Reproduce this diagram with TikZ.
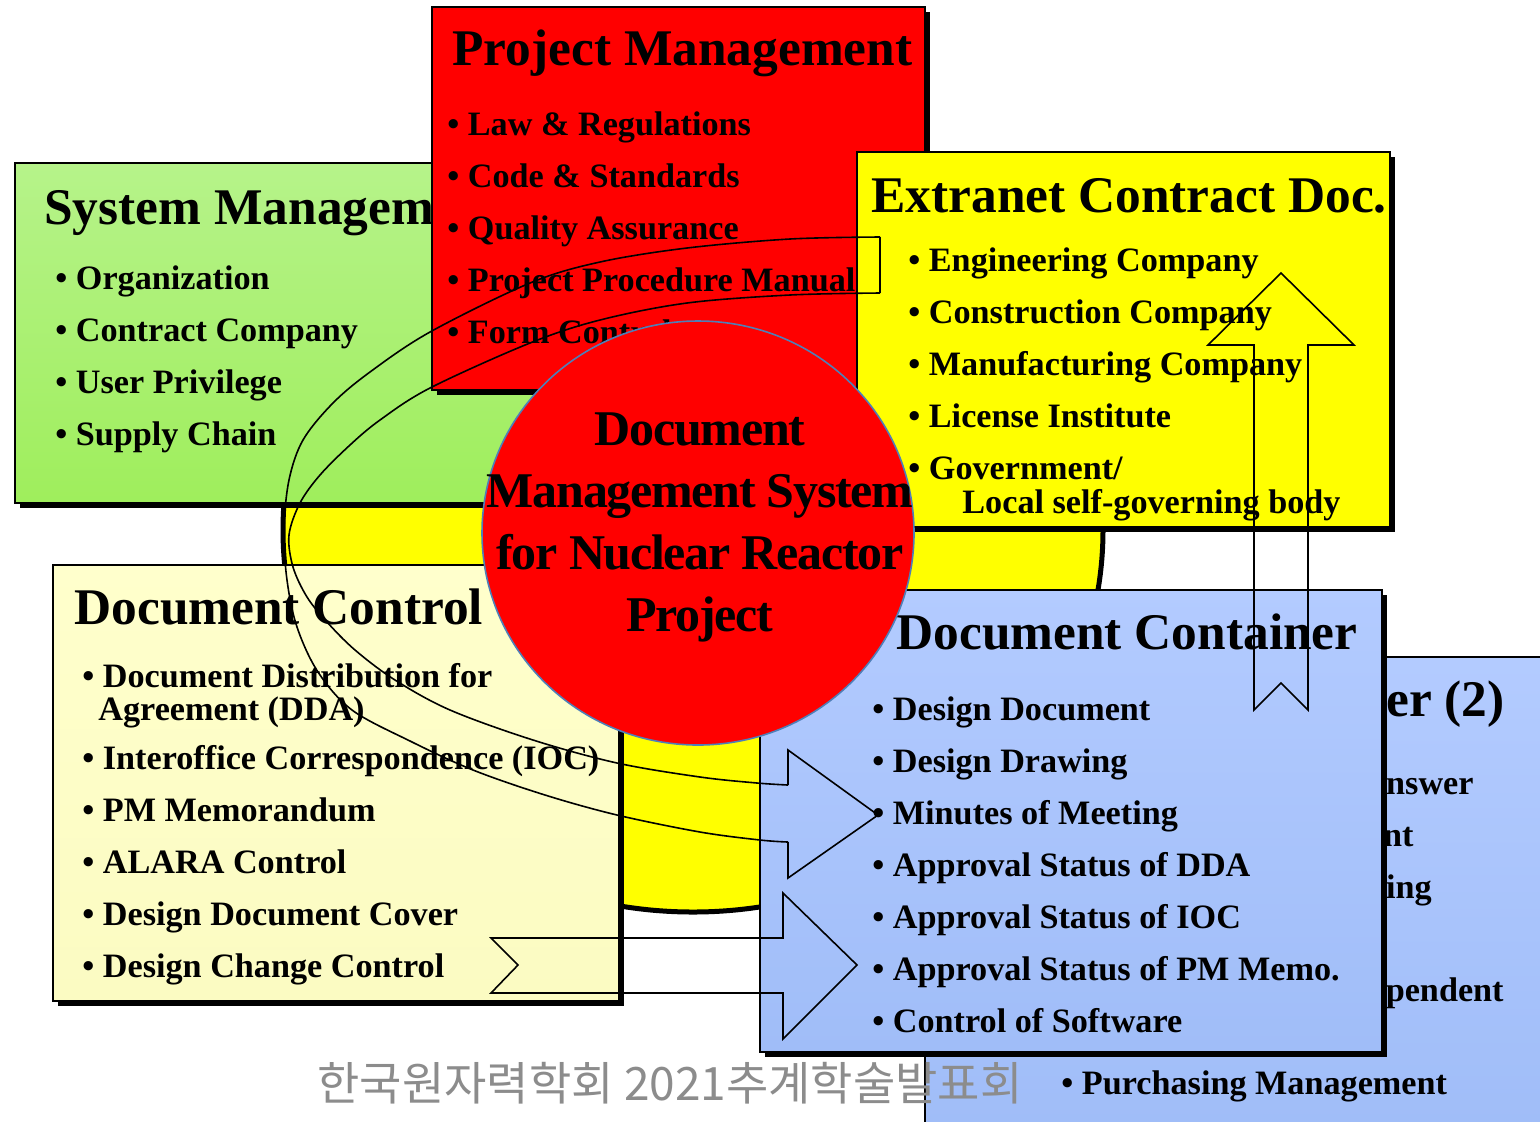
\documentclass[tikz,border=0pt]{standalone}
\usepackage{fontspec}
\setmainfont{Liberation Serif}
\newfontfamily\krfont{Noto Sans CJK KR}
\newfontfamily\circfont[LetterSpace=-2.6]{Liberation Serif}
\definecolor{pmred}{HTML}{FF0000}
\definecolor{exyellow}{HTML}{FFFF00}
\definecolor{smgreentop}{HTML}{B6F38A}
\definecolor{smgreenbot}{HTML}{9FEE5C}
\definecolor{dcyellowtop}{HTML}{FFFFCC}
\definecolor{dcyellowbot}{HTML}{FBFBC2}
\definecolor{bluetop}{HTML}{B3CBFF}
\definecolor{bluebot}{HTML}{A0BDF8}
\definecolor{circline}{HTML}{4F7FB8}
\definecolor{wmgray}{HTML}{8C8C8C}
\tikzset{
  boxborder/.style={draw=black, line width=0.85pt},
  boxshadow/.style={fill=black},
  titlenode/.style={font=\bfseries\fontsize{25.7}{30}\selectfont, anchor=base west, inner sep=0pt},
  itemsnode/.style={font=\bfseries\fontsize{17.1}{26}\selectfont, anchor=base west, inner sep=0pt},
  circtext/.style={font=\circfont\bfseries\fontsize{25}{31}\selectfont, anchor=base, inner sep=0pt},
  arrowline/.style={draw=black, line width=0.8pt, line join=miter},
}
\newcommand{\itemlist}[1]{\begin{tabular}[t]{@{}l@{}}#1\end{tabular}}
\begin{document}
\begin{tikzpicture}[x=0.5pt,y=-0.5pt]
\useasboundingbox (0,0) rectangle (1540,1121);
\fill[white] (0,0) rectangle (1540,1121);

% yellow cylinder behind
\draw[fill=exyellow, line width=2.5pt] (693,530) ellipse [x radius=205pt, y radius=191pt];

% Document Container (2), behind
\path[top color=bluetop, bottom color=bluebot] (925,657) rectangle (1545,1126);
\draw[boxborder] (1545,657) -- (925,657) -- (925,1126);
\node[titlenode, anchor=base east] (c2title) at (1505,716) {ner (2)};
\node[itemsnode, anchor=base east] (c2a) at (1474,794) {Answer};
\node[itemsnode, anchor=base east] (c2b) at (1414,846) {nt};
\node[itemsnode, anchor=base east] (c2c) at (1432,898) {ing};
\node[itemsnode, anchor=base east] (c2d) at (1504,1001) {pendent};
\node[itemsnode] (c2e) at (1061,1094) {• Purchasing Management};

% System Management
\fill[boxshadow] (20,168) rectangle (605,508);
\path[boxborder, top color=smgreentop, bottom color=smgreenbot] (15,163) rectangle (600,503);
\node[titlenode] (smtitle) at (44,224) {System Managem};
\node[itemsnode] (smitems) at (55,289) {\itemlist{• Organization\\• Contract Company\\• User Privilege\\• Supply Chain}};

% Project Management
\fill[boxshadow] (437,12) rectangle (930,395);
\path[boxborder, fill=pmred] (432,7) rectangle (925,390);
\node[titlenode] (pmtitle) at (452,65) {Project Management};
\node[itemsnode] (pmitems) at (447,135) {\itemlist{• Law \& Regulations\\• Code \& Standards\\• Quality Assurance\\• Project Procedure Manual\\• Form Control}};

% Extranet Contract Doc.
\fill[boxshadow] (862,157) rectangle (1395,532);
\path[boxborder, fill=exyellow] (857,152) rectangle (1390,527);
\node[titlenode] (extitle) at (871,212) {Extranet Contract Doc.};
\node[itemsnode] (exitems) at (908,271) {\itemlist{• Engineering Company\\• Construction Company\\• Manufacturing Company\\• License Institute\\• Government/\\[-9pt]\hspace*{27pt}Local self-governing body}};

% Document Control
\fill[boxshadow] (58,570) rectangle (624,1006);
\path[boxborder, top color=dcyellowtop, bottom color=dcyellowbot] (53,565) rectangle (619,1001);
\node[titlenode] (dctitle) at (74,624) {Document Control};
\node[itemsnode] (dcitems) at (82,687) {\itemlist{• Document Distribution for\\[-9.5pt]\hspace*{8pt}Agreement (DDA)\\[-1.5pt]• Interoffice Correspondence (IOC)\\• PM Memorandum\\• ALARA Control\\• Design Document Cover\\• Design Change Control}};

% Document Container (front)
\fill[boxshadow] (765,595) rectangle (1387,1057);
\path[boxborder, top color=bluetop, bottom color=bluebot] (760,590) rectangle (1382,1052);
\node[titlenode] (ctrtitle) at (896,649) {Document Container};
\node[itemsnode] (ctritems) at (872,720) {\itemlist{• Design Document\\• Design Drawing\\• Minutes of Meeting\\• Approval Status of DDA\\• Approval Status of IOC\\• Approval Status of PM Memo.\\• Control of Software}};

% central circle
\draw[fill=pmred, draw=circline, line width=0.8pt] (698,533) ellipse [x radius=108pt, y radius=106pt];
\node[circtext] (dmstext) at (700,445) {\begin{tabular}[t]{@{}c@{}}Document\\Management System\\for Nuclear Reactor\\Project\end{tabular}};

% up arrow
\draw[arrowline] (1254,710) -- (1254,345) -- (1208,345) -- (1281,273) -- (1354,345) -- (1308,345) -- (1308,710) -- (1281,683) -- cycle;

% right arrow (bottom)
\draw[arrowline] (491,938) -- (783,938) -- (783,893) -- (857,965) -- (783,1039) -- (783,993) -- (491,993) -- (518,965) -- cycle;

% curved arrow
\draw[arrowline] plot[smooth, tension=0.55] coordinates {(880,237) (790,239) (687,248) (600,262) (530,283) (430,332) (370,372) (333,403) (303,440) (289,480) (284,530) (287,580) (297,627) (318,672) (352,710) (410,741) (473,770) (545,795) (617,815) (700,832) (760,840) (788,842)};
\draw[arrowline] plot[smooth, tension=0.55] coordinates {(880,293) (790,295) (687,303) (600,320) (530,343) (430,388) (380,420) (350,445) (320,475) (300,503) (289,535) (293,567) (307,597) (327,622) (355,650) (395,680) (450,710) (533,740) (617,763) (700,777) (757,783) (788,785)};
\draw[arrowline] (880,237) -- (880,293);
\draw[arrowline] (788,785) -- (788,750) -- (878,815) -- (788,878) -- (788,842);

% watermark
\node[font=\krfont\fontsize{23}{28}\selectfont, text=wmgray, inner sep=0pt] (wm) at (670,1083) {한국원자력학회 2021추계학술발표회};
\end{tikzpicture}
\end{document}
